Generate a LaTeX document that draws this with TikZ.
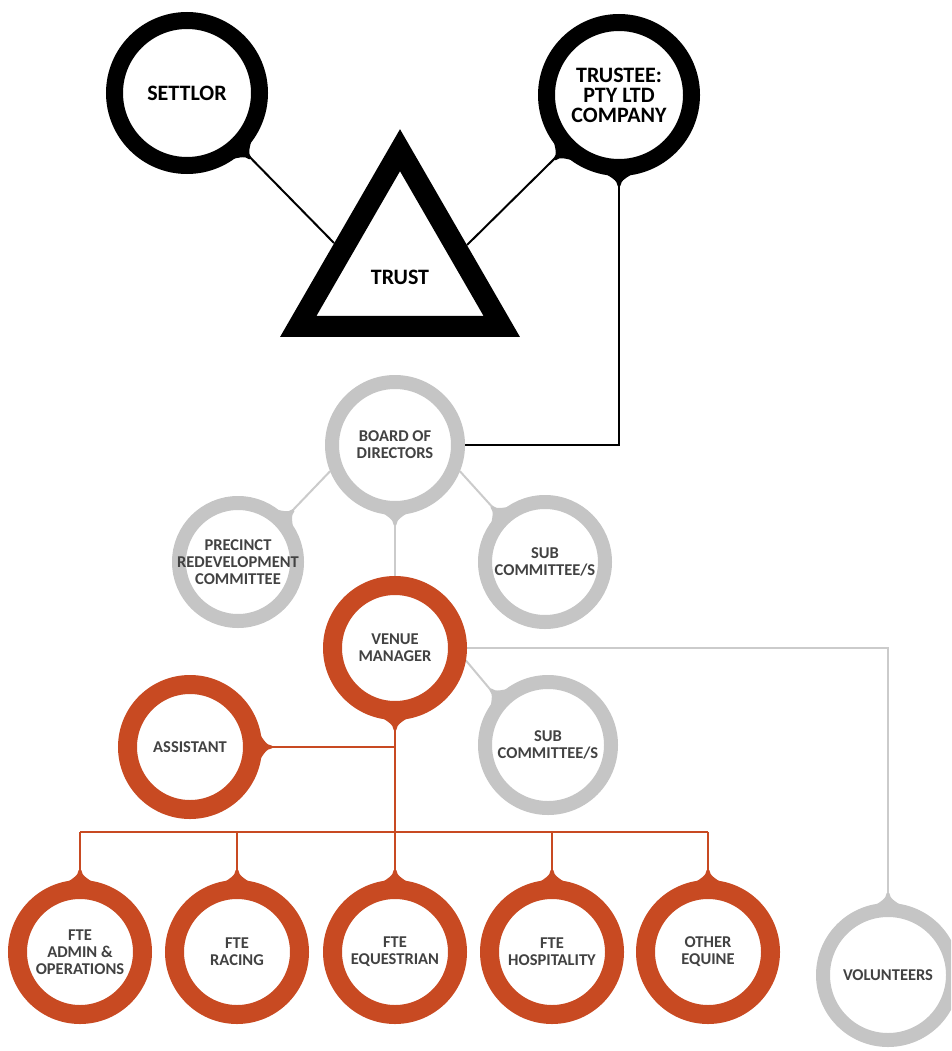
\documentclass[tikz,border=0pt]{standalone}
\usepackage{fontspec}
\setmainfont{Carlito}
\usetikzlibrary{shapes.geometric,calc,positioning}
\definecolor{rust}{RGB}{200,74,34}
\definecolor{ringgray}{RGB}{197,197,197}
\definecolor{linegray}{RGB}{203,203,203}
\definecolor{txtgray}{RGB}{66,66,66}
\pgfdeclarelayer{back}
\pgfsetlayers{back,main}
% little tab where a line meets a ring: node, angle, outer radius, colour
\newcommand{\knob}[4]{\fill[#4,shift={(#1.center)},rotate=#2] ({#3+10},1.3) .. controls ({#3+4},1.6) and ({#3+1},8) .. ({(#3-4)*cos(18)},{(#3-4)*sin(18)}) -- ({(#3-4)*cos(18)},{-(#3-4)*sin(18)}) .. controls ({#3+1},-8) and ({#3+4},-1.6) .. ({#3+10},-1.3) -- cycle;}

\begin{document}
\begin{tikzpicture}
[x = 1pt, y = -1pt,
blackring/.style = {circle, draw = black, line width = 17pt, fill = white, minimum size = 145pt, inner sep = 0pt, align = center, font = \bfseries\fontsize{22}{20}\selectfont},
grayring/.style = {circle, draw = ringgray, line width = 14pt, fill = white, minimum size = 126pt, inner sep = 0pt, align = center, text = txtgray, font = \bfseries\fontsize{16.5}{17}\selectfont},
rustring/.style = {circle, draw = rust, line width = 19pt, fill = white, minimum size = 125pt, inner sep = 0pt, align = center, text = txtgray, font = \bfseries\fontsize{16.5}{17}\selectfont},
trustshape/.style = {regular polygon, regular polygon sides = 3, draw = black, line width = 21pt, fill = white, minimum size = 235pt, inner sep = 0pt},
blackline/.style = {draw = black, line width = 2pt},
grayline/.style = {draw = linegray, line width = 2pt},
rustline/.style = {draw = rust, line width = 2.5pt}]
\path[use as bounding box] (0,0) rectangle (951,1051);
\clip (0,0) rectangle (951,1051);
\node (S) at (187,93)[blackring] {SETTLOR};
\node (R) at (619,95)[blackring] {TRUSTEE:\\PTY LTD\\COMPANY};
\node (T) at (400,267.7)[trustshape] {};
\node (TL) at (400,277)[font = \bfseries\fontsize{22}{20}\selectfont] {TRUST};
\coordinate (sa) at (334,243);
\coordinate (ta) at (467,245);
\node (B) at (395,445)[grayring] {BOARD OF\\DIRECTORS};
\node (P) at (238,562)[grayring, minimum size = 118pt] {PRECINCT\\\makebox[0pt]{REDEVELOPMENT}\\COMMITTEE};
\node (C1) at (545,562)[grayring, minimum size = 120pt] {SUB\\COMMITTEE/S};
\node (V) at (395,648)[rustring] {VENUE\\MANAGER};
\node (A) at (190,747)[rustring] {ASSISTANT};
\node (C2) at (548,745)[grayring] {SUB\\COMMITTEE/S};
\coordinate (bus) at (395,832);
\node (F1) at (80,952)[rustring] {FTE\\ADMIN \&\\OPERATIONS};
\node (F2) at (237,952)[rustring] {FTE\\RACING};
\node (F3) at (395,952)[rustring] {FTE\\EQUESTRIAN};
\node (F4) at (552,952)[rustring] {FTE\\HOSPITALITY};
\node (F5) at (708,952)[rustring] {OTHER\\EQUINE};
\node (Vol) at (888,975)[grayring, minimum size = 130pt] {VOLUNTEERS};
\begin{pgfonlayer}{back}
\draw [blackline] (S) -- (sa);
\draw [blackline] (R) -- (ta);
\draw [blackline] (R) |- (B);
\draw [grayline] (B.202) -- (P.43);
\draw [grayline] (B.-22) -- (C1.134);
\draw [grayline] (B) -- (V);
\draw [grayline] (V.-10) -- (C2.137);
\draw [grayline] (V) -| (Vol);
\draw [rustline] (V) -- (bus);
\draw [rustline] (A) -- (A -| V);
\draw [rustline] (F1 |- bus) -- (F5 |- bus);
\foreach \n in {F1,F2,F3,F4,F5}
  \draw [rustline] (\n) -- (\n |- bus);
\end{pgfonlayer}
\knob{S}{-46}{81}{black}
\knob{R}{-135}{81}{black}
\knob{R}{-90}{81}{black}
\knob{B}{-90}{70}{ringgray}
\knob{P}{43}{66}{ringgray}
\knob{C1}{134}{67}{ringgray}
\knob{C2}{136}{70}{ringgray}
\knob{V}{-90}{72}{rust}
\knob{A}{0}{72}{rust}
\foreach \n in {F1,F2,F3,F4,F5}
  {\knob{\n}{90}{72}{rust}}
\knob{Vol}{90}{72}{ringgray}
\end{tikzpicture}
\end{document}
